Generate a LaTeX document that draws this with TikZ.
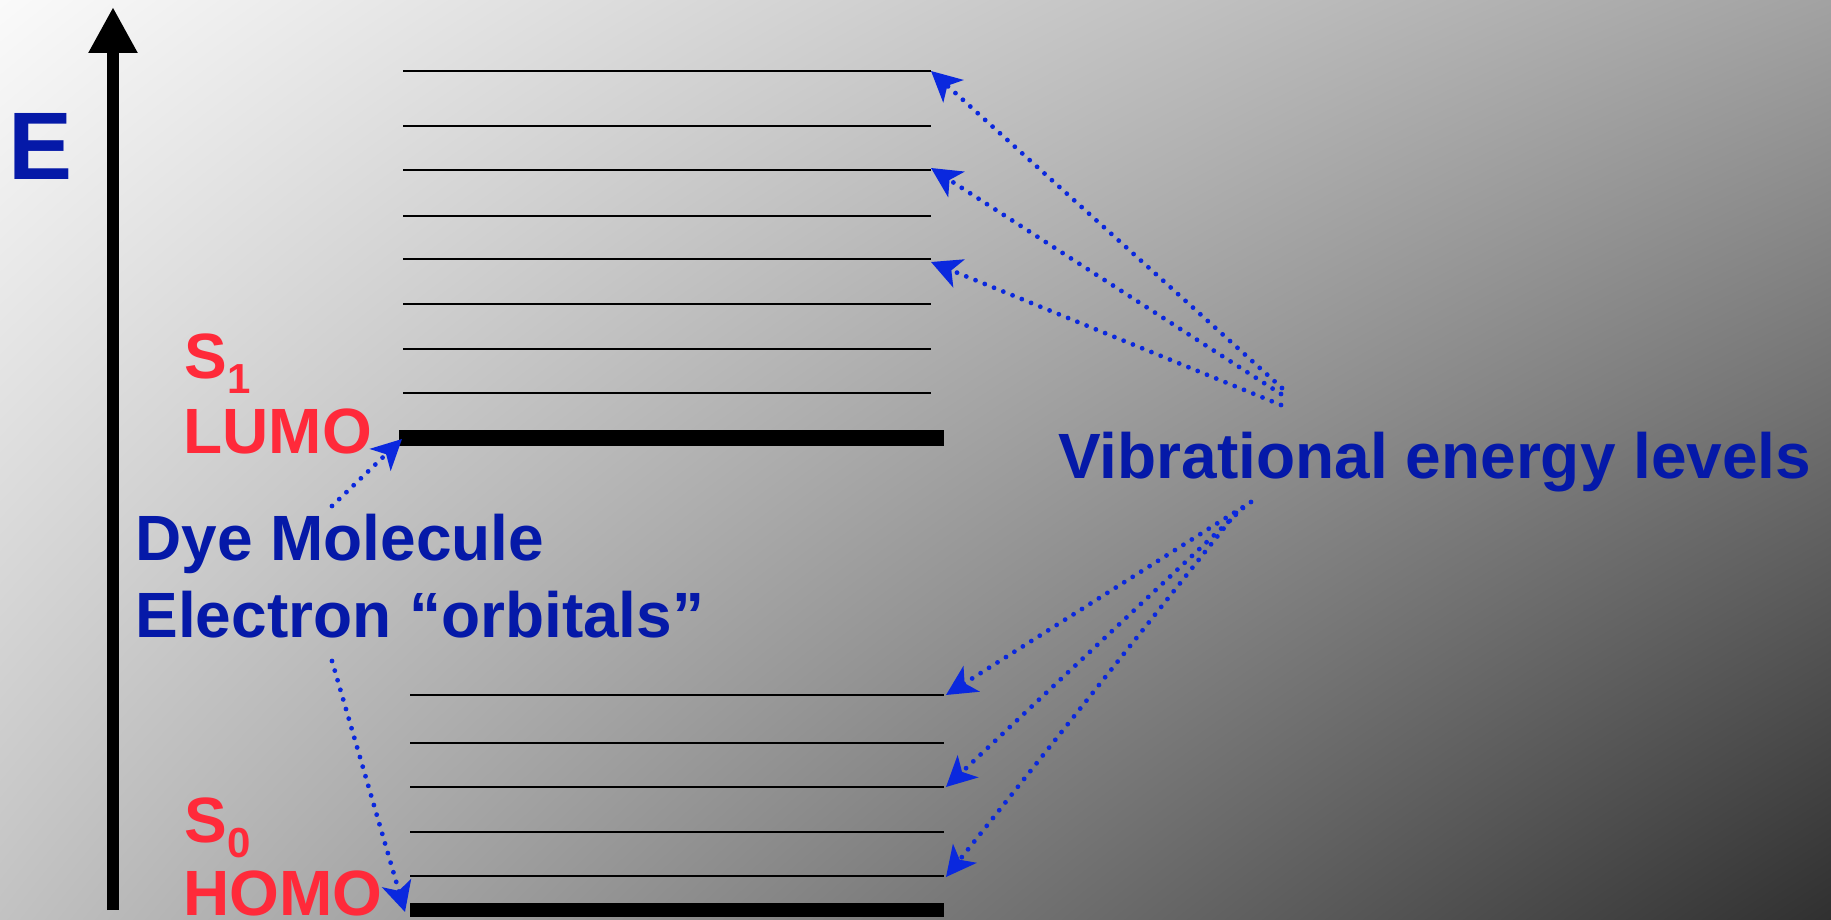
\documentclass[tikz,border=0pt]{standalone}
\usepackage{fontspec}
\setmainfont{Liberation Sans}
\usetikzlibrary{arrows.meta,shadings}
\definecolor{txtblue}{RGB}{5,25,168}
\definecolor{arrblue}{RGB}{10,40,222}
\definecolor{lblred}{RGB}{255,42,58}
\definecolor{bgtl}{RGB}{250,250,250}
\definecolor{bgtr}{RGB}{162,162,162}
\definecolor{bgbl}{RGB}{194,194,194}
\definecolor{bgbr}{RGB}{48,48,48}
\tikzset{
  lvl/.style={line width=1pt, black},
  ground/.style={line width=8pt, black},
  axisarrow/.style={line width=6pt, black, -{Triangle[length=23pt,width=23pt]}},
  dotarrow/.style={arrblue, line width=2.4pt, line cap=round, dash pattern=on 0pt off 5pt,
    -{Stealth[length=15pt,width=15pt,inset=4pt]}},
  lbl/.style={inner sep=0pt, anchor=base west, font=\bfseries\fontsize{32pt}{38pt}\selectfont},
  bluelbl/.style={lbl, text=txtblue},
  redlbl/.style={lbl, text=lblred}
}
\newcommand{\subsc}[1]{\raisebox{-7.5pt}{\fontsize{21pt}{21pt}\selectfont #1}}
\begin{document}
\begin{tikzpicture}[x=0.5pt,y=-0.5pt]
\useasboundingbox (0,0) rectangle (1831,920);
\shade[upper left=bgtl, upper right=bgtr, lower left=bgbl, lower right=bgbr] (0,0) rectangle (1831,920);

% energy axis
\coordinate (axb) at (113,910);
\coordinate (axt) at (113,7);
\draw[axisarrow] (axb) -- (axt);
\node[bluelbl, font=\bfseries\fontsize{48pt}{48pt}\selectfont] (E) at (8,179) {E};

% S1 vibrational levels
\foreach \i/\y in {1/70.7,2/126.3,3/170.3,4/215.7,5/259.3,6/304.3,7/348.7,8/393.3}{
  \coordinate (u\i w) at (403,\y);
  \coordinate (u\i e) at (931,\y);
  \draw[lvl] (u\i w) -- (u\i e);
}
\coordinate (lumow) at (399,438);
\coordinate (lumoe) at (944,438);
\draw[ground] (lumow) -- (lumoe);

% S0 vibrational levels
\foreach \i/\y in {1/695,2/743,3/787.3,4/831.7,5/876.3}{
  \coordinate (d\i w) at (410,\y);
  \coordinate (d\i e) at (944,\y);
  \draw[lvl] (d\i w) -- (d\i e);
}
\coordinate (homow) at (410,910);
\coordinate (homoe) at (944,910);
\draw[ground, line width=7pt] (homow) -- (homoe);

% labels
\node[redlbl] (s1) at (184,378) {S\subsc{1}};
\node[redlbl] (lumo) at (183,453) {LUMO};
\node[redlbl] (s0) at (184,842) {S\subsc{0}};
\node[redlbl] (homo) at (183,915) {HOMO};
\node[bluelbl] (dye1) at (135,560) {Dye Molecule};
\node[bluelbl] (dye2) at (135,637) {Electron “orbitals”};
\node[bluelbl] (vib) at (1058,478) {Vibrational energy levels};

% arrows from "Dye Molecule Electron orbitals"
\coordinate (dt1) at (332,506);
\coordinate (dh1) at (402,439);
\coordinate (dt2) at (332,661);
\coordinate (dh2) at (405,912);
\draw[dotarrow] (dt1) -- (dh1);
\draw[dotarrow] (dt2) -- (dh2);

% arrows from "Vibrational energy levels"
\coordinate (vt1) at (1282,388);
\coordinate (vt2) at (1281,394);
\coordinate (vt3) at (1281,405);
\coordinate (vh1) at (931,71);
\coordinate (vh2) at (931,168);
\coordinate (vh3) at (931,262);
\draw[dotarrow] (vt1) -- (vh1);
\draw[dotarrow] (vt2) -- (vh2);
\draw[dotarrow] (vt3) -- (vh3);

\coordinate (vb1) at (1251,502);
\coordinate (vb2) at (1243,508);
\coordinate (vb3) at (1236,513);
\coordinate (vl1) at (946,695);
\coordinate (vl2) at (946,787);
\coordinate (vl3) at (946,877);
\draw[dotarrow] (vb1) -- (vl1);
\draw[dotarrow] (vb2) -- (vl2);
\draw[dotarrow] (vb3) -- (vl3);
\end{tikzpicture}
\end{document}
